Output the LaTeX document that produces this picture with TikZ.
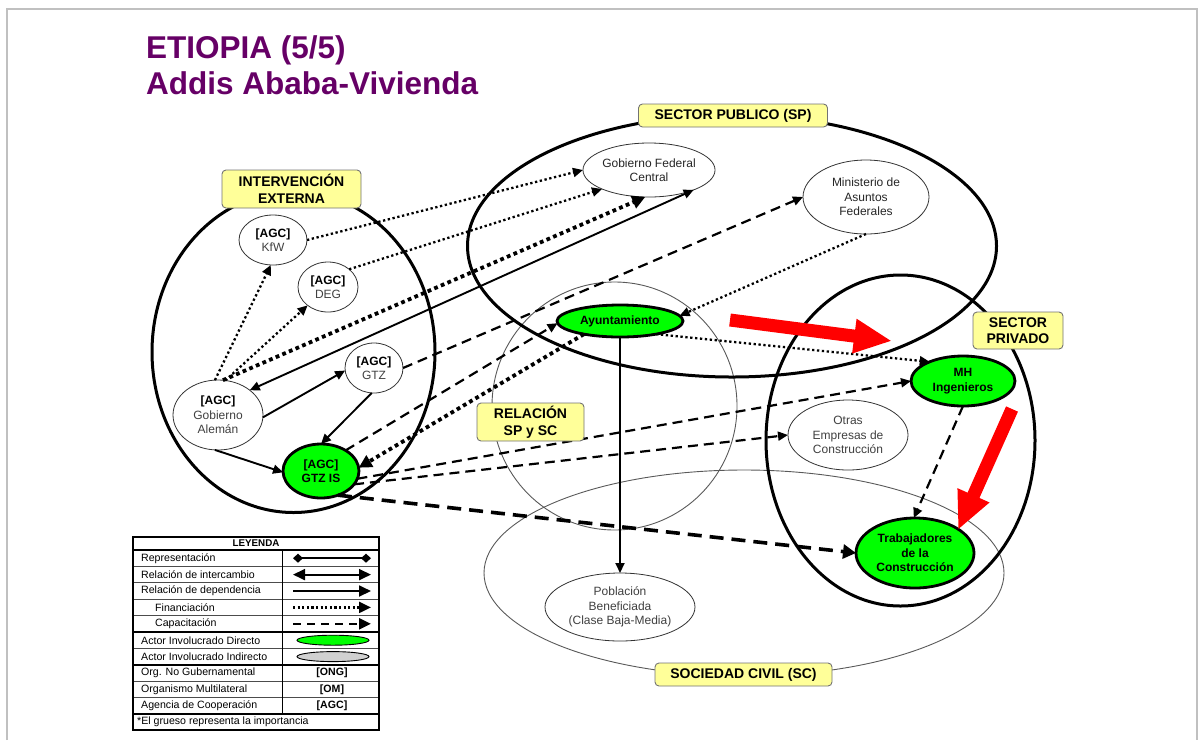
\documentclass[tikz,border=0pt]{standalone}
\usepackage{fontspec}
\setmainfont{Liberation Sans}
\usetikzlibrary{shapes.geometric,arrows.meta}
\definecolor{titulo}{RGB}{102,0,102}
\definecolor{verde}{RGB}{0,255,0}
\definecolor{amarillo}{RGB}{255,255,153}
\definecolor{marco}{RGB}{192,192,192}
\definecolor{nombre}{RGB}{64,64,64}
\newcommand{\agc}{\textcolor{black}{\textbf{[AGC]}}}

\begin{document}
\begin{tikzpicture}[x=1pt, y=-1pt,
    zona/.style={ellipse, draw=black, line width=3pt, inner sep=0pt, outer sep=0pt},
    zonafina/.style={ellipse, draw=black!65, line width=0.9pt, inner sep=0pt, outer sep=0pt},
    actor/.style={ellipse, draw=black!80, line width=0.8pt, fill=white, inner sep=0pt, outer sep=0pt,
        align=center, text=nombre, font=\fontsize{12}{14.5}\selectfont},
    directo/.style={actor, draw=black, line width=2.8pt, fill=verde, text=black,
        font=\fontsize{12}{14.5}\selectfont\bfseries},
    etiqueta/.style={draw=black!55, fill=amarillo, rounded corners=4pt, line width=0.9pt,
        inner sep=0pt, align=center, font=\fontsize{14}{16.5}\selectfont\bfseries},
    depende/.style={line width=1.9pt, -{Triangle[length=10pt,width=9pt]}},
    intercambio/.style={line width=1.9pt, {Triangle[length=10pt,width=9pt]}-{Triangle[length=10pt,width=9pt]}},
    financia/.style={depende, line width=2.3pt, dash pattern=on 2.3pt off 2.6pt},
    financiabold/.style={line width=3.8pt, dash pattern=on 3.8pt off 3.4pt, -{Triangle[length=13pt,width=13pt]}},
    capacita/.style={depende, line width=2.2pt, dash pattern=on 10pt off 6pt},
    capacitabold/.style={line width=3.6pt, dash pattern=on 14pt off 8pt, -{Triangle[length=13pt,width=14pt]}},
    rojo/.style={red, line width=13pt, -{Triangle[length=38pt,width=32pt]}},
    leyenda/.style={inner sep=0pt, font=\fontsize{10.6}{12}\selectfont}]
    \useasboundingbox (0,0) rectangle (1198,740);

    % Frame
    \draw[marco, line width=2.5pt] (7,740) -- (7,9) -- (1197,9) -- (1197,740);

    % Title
    \node[anchor=base west, inner sep=0pt, text=titulo, font=\fontsize{31.5}{36}\selectfont\bfseries] (titulo1) at (146,58) {ETIOPIA (5/5)};
    \node[anchor=base west, inner sep=0pt, text=titulo, font=\fontsize{31.5}{36}\selectfont\bfseries] (titulo2) at (146,94) {Addis Ababa-Vivienda};

    % Sectors
    \node[zonafina, minimum width=520pt, minimum height=206pt] (sc) at (744,573) {};
    \node[zonafina, minimum width=245pt, minimum height=248pt] (rel) at (614.5,406) {};
    \node[zona, minimum width=283pt, minimum height=321pt] (ext) at (293.5,352) {};
    \node[zona, minimum width=529pt, minimum height=262pt] (sp) at (732,246) {};
    \node[zona, minimum width=269pt, minimum height=331pt] (priv) at (900.5,440.5) {};

    % Actors
    \node[actor, minimum width=68pt, minimum height=50pt] (kfw) at (273,240) {\agc\\KfW};
    \node[actor, minimum width=60pt, minimum height=50pt] (deg) at (328,287) {\agc\\DEG};
    \node[actor, minimum width=58pt, minimum height=50pt] (gtz) at (374,368) {\agc\\GTZ};
    \node[actor, minimum width=90pt, minimum height=70pt] (ga) at (218,415) {\agc\\Gobierno\\Alemán};
    \node[directo, minimum width=76pt, minimum height=54pt] (gtzis) at (321,471) {[AGC]\\GTZ IS};
    \node[actor, minimum width=132pt, minimum height=54pt, text=black!85] (gfc) at (649,170) {Gobierno Federal\\Central};
    \node[actor, minimum width=126pt, minimum height=74pt, text=black!85] (min) at (866,197) {Ministerio de\\Asuntos\\Federales};
    \node[directo, minimum width=126pt, minimum height=32pt] (ayu) at (620,321) {Ayuntamiento};
    \node[directo, minimum width=104pt, minimum height=50pt] (mh) at (963,381) {MH\\Ingenieros};
    \node[actor, minimum width=120pt, minimum height=70pt] (otras) at (848,435) {Otras\\Empresas de\\Construcción};
    \node[directo, minimum width=118pt, minimum height=70pt] (trab) at (915,553) {Trabajadores\\de la\\Construcción};
    \node[actor, minimum width=150pt, minimum height=68pt] (pob) at (620,607) {Población\\Beneficiada\\(Clase Baja-Media)};

    % Relations
    \draw[financia] (kfw.east) -- (gfc.west);
    \draw[financia] (deg.40) -- (gfc.202);
    \draw[financiabold] (ga.82) -- (gfc.262);
    \draw[intercambio] (ga.38) -- (gfc.336);
    \draw[financia] (ga.95) -- (kfw.265);
    \draw[financia] (ga.78) -- (deg.222);
    \draw[depende] (ga.-3) -- (gtz.185);
    \draw[depende] (gtz.265) -- (gtzis.north);
    \draw[depende] (ga.265) -- (gtzis.182);
    \draw[capacita] (gtz.east) -- (min.west);
    \draw[capacita] (gtzis.40) -- (ayu.182);
    \draw[financiabold] (ayu.200) -- (gtzis.5);
    \draw[financia] (min.south) -- (ayu.5);
    \draw[financia] (ayu.340) -- (mh.150);
    \draw[capacita] (gtzis.-12) -- (mh.west);
    \draw[capacita] (gtzis.-22) -- (otras.west);
    \draw[capacitabold] (gtzis.-55) -- (trab.west);
    \draw[capacita] (mh.south) -- (trab.92);
    \draw[depende] (ayu.south) -- (pob.north);

    % Red arrows
    \coordinate (flecha1a) at (730,320);
    \coordinate (flecha1b) at (892,341);
    \coordinate (flecha2a) at (1012,409);
    \coordinate (flecha2b) at (958,530);
    \draw[rojo] (flecha1a) -- (flecha1b);
    \draw[rojo] (flecha2a) -- (flecha2b);

    % Sector labels
    \node[etiqueta, minimum width=189pt, minimum height=23pt] (lsp) at (733,115.5) {SECTOR PUBLICO (SP)};
    \node[etiqueta, minimum width=139pt, minimum height=38pt] (lext) at (291.5,189) {INTERVENCIÓN\\EXTERNA};
    \node[etiqueta, minimum width=90pt, minimum height=37pt] (lpriv) at (1018,330.5) {SECTOR\\PRIVADO};
    \node[etiqueta, minimum width=107pt, minimum height=38pt] (lrel) at (530.5,422) {RELACIÓN\\SP y SC};
    \node[etiqueta, minimum width=177pt, minimum height=23pt] (lsc) at (743.5,674.5) {SOCIEDAD CIVIL (SC)};

    % Legend
    \fill[white] (133,537) rectangle (379,730.4);
    \foreach \k in {1,2,3,4,6,8,9}
        \draw[black!70, line width=0.9pt] (133,{550+16.4*\k}) -- (379,{550+16.4*\k});
    \foreach \k in {0,5,7,10}
        \draw[line width=1.8pt] (133,{550+16.4*\k}) -- (379,{550+16.4*\k});
    \draw[line width=1pt] (282,550) -- (282,714);
    \draw[line width=2pt] (133,537) rectangle (379,730.4);
    \node[leyenda, font=\fontsize{9.8}{11}\selectfont\bfseries] (ley0) at (256,543.5) {LEYENDA};
    \foreach \s/\t [count=\i] in {0/Representación, 0/Relación de intercambio, 0/Relación de dependencia,
        1/Financiación, 1/Capacitación, 0/Actor Involucrado Directo, 0/Actor Involucrado Indirecto,
        0/Org. No Gubernamental, 0/Organismo Multilateral, 0/Agencia de Cooperación}
        \node[leyenda, anchor=west] (ley\i) at ({141+14*\s},{550+16.4*(\i-0.5)}) {\t};
    \node[leyenda, anchor=west] (ley11) at (137,722.2) {*El grueso representa la importancia};
    \draw[line width=1.8pt, {Diamond[length=10pt,width=9pt]}-{Diamond[length=10pt,width=9pt]}] (293,558.2) -- (371,558.2);
    \draw[line width=1.8pt, {Triangle[length=12pt,width=11pt]}-{Triangle[length=12pt,width=11pt]}] (293,574.6) -- (371,574.6);
    \draw[line width=1.8pt, -{Triangle[length=12pt,width=11pt]}] (293,591) -- (371,591);
    \draw[line width=2.2pt, dash pattern=on 2.2pt off 2.4pt, -{Triangle[length=12pt,width=11pt]}] (293,607.4) -- (371,607.4);
    \draw[line width=2.4pt, dash pattern=on 8pt off 6pt, -{Triangle[length=12pt,width=11pt]}] (293,623.8) -- (371,623.8);
    \draw[fill=verde, line width=0.9pt] (333,640.2) ellipse (36 and 5);
    \draw[fill=black!18, line width=0.9pt] (333,656.6) ellipse (36 and 5);
    \node[leyenda, font=\fontsize{10.6}{12}\selectfont\bfseries] (ong) at (332,673) {[ONG]};
    \node[leyenda, font=\fontsize{10.6}{12}\selectfont\bfseries] (om) at (332,689.4) {[OM]};
    \node[leyenda, font=\fontsize{10.6}{12}\selectfont\bfseries] (agc) at (332,705.8) {[AGC]};
\end{tikzpicture}
\end{document}
